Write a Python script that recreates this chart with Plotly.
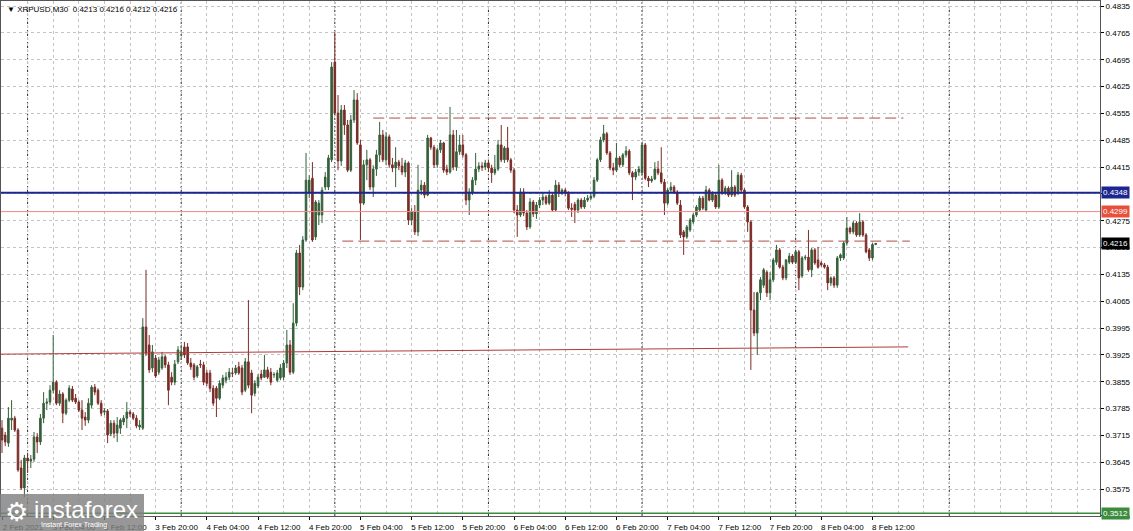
import pandas as pd
import plotly.graph_objects as go

# ---------------- data ----------------
chart_title = "\u25bc XRPUSD,M30  0.4213 0.4216 0.4212 0.4216"
start_time = "2021-02-02 20:00"

opens = [
0.3734,0.3716,0.3695,0.3755,0.3760,0.3729,0.3630,0.3578,0.3656,0.3648,
0.3653,0.3711,0.3698,0.3760,0.3799,0.3802,0.3833,0.3854,0.3799,0.3823,
0.3773,0.3807,0.3836,0.3812,0.3802,0.3781,0.3763,0.3755,0.3794,0.3841,
0.3833,0.3799,0.3776,0.3779,0.3719,0.3747,0.3721,0.3734,0.3750,0.3760,
0.3776,0.3771,0.3760,0.3737,0.3734,0.3998,0.3951,0.3891,0.3917,0.3880,
0.3891,0.3920,0.3899,0.3867,0.3854,0.3907,0.3922,0.3946,0.3946,0.3904,
0.3899,0.3870,0.3901,0.3899,0.3878,0.3878,0.3838,0.3838,0.3812,0.3846,
0.3859,0.3867,0.3878,0.3878,0.3894,0.3891,0.3833,0.3907,0.3878,0.3825,
0.3844,0.3875,0.3867,0.3886,0.3880,0.3873,0.3859,0.3865,0.3867,0.3904,
0.3951,0.3880,0.4008,0.4191,0.4102,0.4225,0.4350,0.4386,0.4233,0.4290,
0.4290,0.4363,0.4363,0.4434,0.4689,0.4556,0.4431,0.4564,0.4525,0.4407,
0.4538,0.4590,0.4473,0.4321,0.4421,0.4434,0.4363,0.4410,0.4447,0.4499,
0.4434,0.4494,0.4421,0.4413,0.4428,0.4418,0.4402,0.4426,0.4277,0.4298,
0.4246,0.4355,0.4368,0.4342,0.4491,0.4467,0.4421,0.4460,0.4478,0.4410,
0.4402,0.4499,0.4415,0.4455,0.4473,0.4447,0.4329,0.4350,0.4381,0.4410,
0.4418,0.4415,0.4426,0.4413,0.4400,0.4410,0.4473,0.4434,0.4465,0.4434,
0.4407,0.4303,0.4290,0.4350,0.4295,0.4259,0.4324,0.4293,0.4316,0.4329,
0.4337,0.4321,0.4342,0.4303,0.4368,0.4347,0.4355,0.4347,0.4308,0.4318,
0.4303,0.4329,0.4311,0.4329,0.4334,0.4339,0.4381,0.4434,0.4486,0.4502,
0.4452,0.4413,0.4407,0.4439,0.4421,0.4447,0.4457,0.4400,0.4389,0.4402,
0.4400,0.4473,0.4386,0.4379,0.4384,0.4410,0.4400,0.4376,0.4321,0.4355,
0.4363,0.4350,0.4316,0.4246,0.4233,0.4251,0.4272,0.4290,0.4303,0.4334,
0.4303,0.4355,0.4329,0.4342,0.4311,0.4381,0.4347,0.4360,0.4342,0.4363,
0.4347,0.4394,0.4355,0.4311,0.4272,0.4042,0.3982,0.4087,0.4107,0.4141,
0.4087,0.4121,0.4167,0.4199,0.4154,0.4126,0.4167,0.4183,0.4167,0.4194,
0.4131,0.4178,0.4180,0.4147,0.4199,0.4173,0.4165,0.4160,0.4154,0.4113,
0.4126,0.4107,0.4178,0.4178,0.4217,0.4256,0.4246,0.4269,0.4238,0.4272,
0.4238,0.4199,0.4178,0.4213,
]

highs = [
0.3755,0.3724,0.3789,0.3807,0.3766,0.3734,0.3651,0.3664,0.3669,0.3664,
0.3724,0.3721,0.3771,0.3828,0.3812,0.3846,0.3977,0.3859,0.3833,0.3828,
0.3812,0.3846,0.3844,0.3823,0.3807,0.3807,0.3776,0.3812,0.3846,0.3849,
0.3838,0.3807,0.3786,0.3784,0.3755,0.3755,0.3763,0.3760,0.3768,0.3802,
0.3781,0.3776,0.3768,0.3755,0.4021,0.4147,0.3977,0.3951,0.3925,0.3920,
0.3933,0.3925,0.3907,0.3880,0.3912,0.3948,0.3951,0.3959,0.3956,0.3917,
0.3904,0.3899,0.3912,0.3907,0.3886,0.3886,0.3846,0.3844,0.3859,0.3873,
0.3880,0.3891,0.3891,0.3899,0.3907,0.3899,0.3917,0.4068,0.3886,0.3859,
0.3875,0.3886,0.3925,0.3894,0.3891,0.3880,0.3886,0.3901,0.3912,0.3990,
0.3964,0.4060,0.4199,0.4212,0.4235,0.4452,0.4394,0.4428,0.4329,0.4329,
0.4363,0.4402,0.4447,0.4689,0.4767,0.4603,0.4577,0.4577,0.4538,0.4551,
0.4616,0.4608,0.4486,0.4434,0.4460,0.4439,0.4420,0.4460,0.4533,0.4512,
0.4507,0.4500,0.4439,0.4467,0.4434,0.4439,0.4434,0.4430,0.4308,0.4316,
0.4421,0.4381,0.4376,0.4499,0.4494,0.4473,0.4465,0.4486,0.4481,0.4421,
0.4572,0.4512,0.4512,0.4499,0.4499,0.4452,0.4360,0.4389,0.4452,0.4428,
0.4428,0.4434,0.4434,0.4421,0.4447,0.4486,0.4525,0.4470,0.4520,0.4439,
0.4413,0.4316,0.4360,0.4360,0.4303,0.4334,0.4329,0.4324,0.4337,0.4347,
0.4342,0.4355,0.4347,0.4381,0.4376,0.4360,0.4360,0.4352,0.4321,0.4324,
0.4334,0.4334,0.4337,0.4342,0.4347,0.4389,0.4439,0.4494,0.4525,0.4507,
0.4457,0.4426,0.4478,0.4444,0.4452,0.4470,0.4462,0.4405,0.4410,0.4418,
0.4478,0.4478,0.4392,0.4392,0.4428,0.4431,0.4467,0.4384,0.4360,0.4376,
0.4368,0.4355,0.4329,0.4251,0.4264,0.4282,0.4295,0.4316,0.4340,0.4340,
0.4366,0.4360,0.4352,0.4347,0.4421,0.4386,0.4366,0.4365,0.4407,0.4368,
0.4402,0.4400,0.4360,0.4316,0.4277,0.4089,0.4090,0.4128,0.4152,0.4146,
0.4141,0.4178,0.4212,0.4204,0.4160,0.4175,0.4191,0.4188,0.4199,0.4199,
0.4183,0.4186,0.4251,0.4204,0.4204,0.4207,0.4170,0.4165,0.4160,0.4130,
0.4131,0.4183,0.4190,0.4222,0.4285,0.4260,0.4275,0.4274,0.4295,0.4277,
0.4243,0.4204,0.4217,0.4216,
]

lows = [
0.3669,0.3687,0.3685,0.3729,0.3724,0.3620,0.3573,0.3554,0.3617,0.3630,
0.3646,0.3669,0.3690,0.3747,0.3781,0.3794,0.3825,0.3794,0.3792,0.3747,
0.3768,0.3802,0.3802,0.3797,0.3776,0.3729,0.3740,0.3747,0.3786,0.3820,
0.3794,0.3765,0.3768,0.3695,0.3713,0.3708,0.3698,0.3719,0.3742,0.3734,
0.3763,0.3755,0.3734,0.3729,0.3729,0.3922,0.3878,0.3880,0.3865,0.3873,
0.3886,0.3891,0.3794,0.3846,0.3846,0.3901,0.3912,0.3917,0.3899,0.3886,
0.3859,0.3865,0.3891,0.3846,0.3844,0.3828,0.3792,0.3763,0.3807,0.3838,
0.3851,0.3859,0.3867,0.3873,0.3873,0.3820,0.3828,0.3838,0.3773,0.3817,
0.3838,0.3859,0.3865,0.3862,0.3846,0.3865,0.3854,0.3859,0.3859,0.3891,
0.3873,0.3875,0.4000,0.4081,0.4094,0.4220,0.4334,0.4220,0.4225,0.4264,
0.4269,0.4355,0.4355,0.4428,0.4551,0.4407,0.4418,0.4499,0.4402,0.4402,
0.4530,0.4473,0.4225,0.4316,0.4381,0.4355,0.4337,0.4392,0.4428,0.4428,
0.4421,0.4413,0.4402,0.4363,0.4407,0.4394,0.4389,0.4264,0.4264,0.4238,
0.4235,0.4342,0.4334,0.4339,0.4460,0.4413,0.4413,0.4452,0.4400,0.4394,
0.4398,0.4407,0.4405,0.4447,0.4440,0.4316,0.4290,0.4342,0.4368,0.4402,
0.4405,0.4407,0.4402,0.4374,0.4394,0.4405,0.4428,0.4426,0.4428,0.4400,
0.4295,0.4233,0.4285,0.4287,0.4251,0.4254,0.4285,0.4280,0.4308,0.4316,
0.4316,0.4316,0.4298,0.4298,0.4337,0.4342,0.4339,0.4303,0.4285,0.4269,
0.4295,0.4306,0.4306,0.4324,0.4329,0.4334,0.4376,0.4428,0.4480,0.4447,
0.4407,0.4394,0.4402,0.4415,0.4415,0.4440,0.4394,0.4329,0.4381,0.4392,
0.4394,0.4381,0.4363,0.4374,0.4381,0.4394,0.4371,0.4290,0.4316,0.4350,
0.4345,0.4316,0.4230,0.4186,0.4228,0.4246,0.4267,0.4285,0.4298,0.4303,
0.4298,0.4326,0.4324,0.4306,0.4306,0.4342,0.4342,0.4337,0.4337,0.4337,
0.4342,0.4350,0.4306,0.4246,0.3886,0.3974,0.3925,0.4068,0.4100,0.4076,
0.4068,0.4115,0.4160,0.4150,0.4120,0.4120,0.4162,0.4162,0.4162,0.4094,
0.4126,0.4172,0.4142,0.4128,0.4160,0.4150,0.4155,0.4150,0.4094,0.4105,
0.4100,0.4100,0.4170,0.4173,0.4210,0.4240,0.4240,0.4233,0.4233,0.4233,
0.4190,0.4170,0.4172,0.4212,
]

closes = [
0.3703,0.3698,0.3760,0.3760,0.3729,0.3625,0.3578,0.3656,0.3648,0.3653,
0.3711,0.3698,0.3760,0.3799,0.3802,0.3833,0.3854,0.3799,0.3823,0.3773,
0.3807,0.3838,0.3807,0.3802,0.3781,0.3760,0.3755,0.3799,0.3841,0.3828,
0.3799,0.3773,0.3779,0.3716,0.3747,0.3721,0.3742,0.3755,0.3760,0.3776,
0.3771,0.3760,0.3740,0.3742,0.3998,0.3930,0.3886,0.3933,0.3870,0.3912,
0.3920,0.3899,0.3833,0.3854,0.3901,0.3938,0.3933,0.3925,0.3904,0.3894,
0.3867,0.3894,0.3899,0.3854,0.3851,0.3838,0.3799,0.3812,0.3851,0.3865,
0.3867,0.3880,0.3877,0.3891,0.3878,0.3828,0.3907,0.3846,0.3820,0.3851,
0.3867,0.3865,0.3886,0.3867,0.3854,0.3874,0.3878,0.3891,0.3904,0.3951,
0.3880,0.4008,0.4191,0.4102,0.4225,0.4381,0.4381,0.4225,0.4324,0.4321,
0.4355,0.4389,0.4439,0.4676,0.4556,0.4431,0.4564,0.4525,0.4407,0.4538,
0.4590,0.4478,0.4321,0.4421,0.4434,0.4363,0.4410,0.4447,0.4499,0.4434,
0.4494,0.4421,0.4413,0.4428,0.4418,0.4402,0.4426,0.4277,0.4298,0.4246,
0.4355,0.4368,0.4342,0.4491,0.4467,0.4421,0.4460,0.4478,0.4407,0.4402,
0.4499,0.4415,0.4455,0.4473,0.4447,0.4329,0.4350,0.4381,0.4410,0.4418,
0.4415,0.4426,0.4413,0.4400,0.4410,0.4473,0.4434,0.4465,0.4434,0.4407,
0.4303,0.4290,0.4350,0.4295,0.4259,0.4324,0.4293,0.4316,0.4329,0.4337,
0.4321,0.4342,0.4303,0.4368,0.4347,0.4355,0.4347,0.4308,0.4305,0.4303,
0.4329,0.4311,0.4329,0.4334,0.4339,0.4381,0.4434,0.4486,0.4502,0.4452,
0.4413,0.4407,0.4439,0.4421,0.4447,0.4457,0.4400,0.4389,0.4402,0.4410,
0.4473,0.4386,0.4379,0.4384,0.4410,0.4400,0.4376,0.4321,0.4355,0.4363,
0.4350,0.4321,0.4238,0.4233,0.4259,0.4277,0.4290,0.4311,0.4334,0.4308,
0.4355,0.4329,0.4347,0.4311,0.4381,0.4347,0.4360,0.4342,0.4363,0.4342,
0.4394,0.4355,0.4311,0.4272,0.4042,0.3982,0.4087,0.4121,0.4147,0.4087,
0.4121,0.4173,0.4199,0.4154,0.4126,0.4173,0.4183,0.4167,0.4194,0.4126,
0.4178,0.4180,0.4147,0.4199,0.4165,0.4154,0.4160,0.4154,0.4113,0.4126,
0.4107,0.4178,0.4186,0.4217,0.4256,0.4246,0.4269,0.4238,0.4272,0.4238,
0.4194,0.4178,0.4213,0.4216,
]

x_tick_vals = [
    "2021-02-02 20:00", "2021-02-03 04:00", "2021-02-03 12:00", "2021-02-03 20:00",
    "2021-02-04 04:00", "2021-02-04 12:00", "2021-02-04 20:00",
    "2021-02-05 04:00", "2021-02-05 12:00", "2021-02-05 20:00",
    "2021-02-06 04:00", "2021-02-06 12:00", "2021-02-06 20:00",
    "2021-02-07 04:00", "2021-02-07 12:00", "2021-02-07 20:00",
    "2021-02-08 04:00", "2021-02-08 12:00",
]
x_tick_text = [
    "2 Feb 2021", "3 Feb 04:00", "3 Feb 12:00", "3 Feb 20:00",
    "4 Feb 04:00", "4 Feb 12:00", "4 Feb 20:00",
    "5 Feb 04:00", "5 Feb 12:00", "5 Feb 20:00",
    "6 Feb 04:00", "6 Feb 12:00", "6 Feb 20:00",
    "7 Feb 04:00", "7 Feb 12:00", "7 Feb 20:00",
    "8 Feb 04:00", "8 Feb 12:00",
]
y_tick_vals = [0.3505, 0.3575, 0.3645, 0.3715, 0.3785, 0.3855, 0.3925, 0.3995,
               0.4065, 0.4135, 0.4205, 0.4275, 0.4345, 0.4415, 0.4485, 0.4555,
               0.4625, 0.4695, 0.4765, 0.4835]
# 0.4345 is fully hidden behind the 0.4348 level label in the reference
y_tick_text = ["" if v == 0.4345 else "%.4f" % v for v in y_tick_vals]

period_separators = ["2021-02-03", "2021-02-04", "2021-02-05", "2021-02-06",
                     "2021-02-07", "2021-02-08", "2021-02-09"]

level_blue = 0.4348
level_red = 0.4299
level_green = 0.3512
last_price = 0.4216

resistance_price = 0.4543
resistance_span = ["2021-02-05 06:00", "2021-02-08 16:50"]
support_price = 0.4222
support_span = ["2021-02-05 01:10", "2021-02-08 17:50"]
trend_times = ["2021-02-02 19:45", "2021-02-08 17:35"]
trend_prices = [0.3927, 0.3946]

# ---------------- figure ----------------
times = pd.date_range(start_time, periods=len(closes), freq="30min")

fig = go.Figure()
fig.add_trace(go.Candlestick(
    x=times, open=opens, high=highs, low=lows, close=closes,
    increasing=dict(line=dict(color="#35603a", width=1), fillcolor="#35603a"),
    decreasing=dict(line=dict(color="#7a2c27", width=1), fillcolor="#7a2c27"),
    whiskerwidth=0, showlegend=False, hoverinfo="skip",
))

bar = pd.Timedelta(minutes=30)
t0 = pd.Timestamp(start_time)
x_range = [t0 - 0.3125 * bar, t0 + 343.1 * bar]

grid_col = "#c4c4c4"
font_main = "Liberation Sans, Arial, sans-serif"

fig.update_layout(
    width=1133, height=531,
    margin=dict(l=1, r=33, t=1, b=15, pad=0, autoexpand=False),
    paper_bgcolor="white", plot_bgcolor="white",
    font=dict(family=font_main, size=8, color="black"),
    showlegend=False,
)
fig.update_xaxes(
    type="date", range=x_range, rangeslider_visible=False, automargin=False,
    tickmode="array", tickvals=x_tick_vals, ticktext=x_tick_text,
    ticks="outside", ticklen=3, tickcolor="black",
    tickfont=dict(size=8, family=font_main, color="black"),
    ticklabelshift=21, ticklabelstandoff=0,
    showgrid=True, gridcolor=grid_col, griddash="3px,3px", gridwidth=1,
    minor=dict(tickmode="linear", tick0=start_time, dtick=4 * 3600 * 1000,
               showgrid=True, gridcolor=grid_col, griddash="3px,3px", ticks=""),
    showline=True, linecolor="#555555", linewidth=1, mirror=True,
    zeroline=False, fixedrange=True,
)
fig.update_yaxes(
    side="right", range=[0.35048, 0.48484], automargin=False,
    tickmode="array", tickvals=y_tick_vals, ticktext=y_tick_text,
    ticks="outside", ticklen=3, tickcolor="black",
    tickfont=dict(size=8, family=font_main, color="black"),
    showgrid=True, gridcolor=grid_col, griddash="3px,3px", gridwidth=1,
    showline=True, linecolor="#555555", linewidth=1, mirror=True,
    zeroline=False, fixedrange=True,
)

shapes = []
for d in period_separators:
    shapes.append(dict(type="line", xref="x", yref="paper", x0=d, x1=d, y0=0, y1=1,
                       line=dict(color="#2a2a2a", width=1, dash="2px,2px"), layer="below"))
shapes.append(dict(type="line", xref="paper", yref="y", x0=0, x1=1, y0=level_red, y1=level_red,
                   line=dict(color="#f28a86", width=1), layer="above"))
shapes.append(dict(type="line", xref="paper", yref="y", x0=0, x1=1, y0=level_blue, y1=level_blue,
                   line=dict(color="#1c2590", width=2), layer="above"))
shapes.append(dict(type="line", xref="paper", yref="y", x0=0, x1=1, y0=level_green, y1=level_green,
                   line=dict(color="#3d8c3d", width=1.5), layer="above"))
shapes.append(dict(type="line", xref="x", yref="y", x0=resistance_span[0], x1=resistance_span[1],
                   y0=resistance_price, y1=resistance_price,
                   line=dict(color="#b04a45", width=1, dash="11px,5px"), layer="above"))
shapes.append(dict(type="line", xref="x", yref="y", x0=support_span[0], x1=support_span[1],
                   y0=support_price, y1=support_price,
                   line=dict(color="#b04a45", width=1, dash="11px,5px"), layer="above"))
shapes.append(dict(type="line", xref="x", yref="y", x0=trend_times[0], x1=trend_times[1],
                   y0=trend_prices[0], y1=trend_prices[1],
                   line=dict(color="#b03a3a", width=1), layer="above"))


def px_x(p):
    return (p - 1) / 1099.0


def px_y(p):
    return (516 - p) / 515.0


shapes.append(dict(type="rect", xref="paper", yref="paper",
                   x0=px_x(0), x1=px_x(144), y0=px_y(531), y1=px_y(494),
                   fillcolor="#808080", opacity=0.82, line=dict(width=0), layer="above"))
fig.update_layout(shapes=shapes)

annotations = []
annotations.append(dict(text=chart_title, xref="paper", yref="paper", x=px_x(5), y=px_y(9),
                        xanchor="left", yanchor="middle", showarrow=False,
                        font=dict(size=8, color="black", family=font_main)))
for price, bg in [(level_blue, "#1c2590"), (level_red, "#e8503c"),
                  (last_price, "#000000"), (level_green, "#3d8c3d")]:
    annotations.append(dict(text="%.4f" % price, xref="paper", yref="y", x=1, y=price,
                            xanchor="left", yanchor="middle", xshift=1, showarrow=False,
                            bgcolor=bg, borderpad=1,
                            font=dict(size=8, color="white", family=font_main)))
annotations.append(dict(text="\u2699", xref="paper", yref="paper", x=px_x(3), y=px_y(512),
                        xanchor="left", yanchor="middle", showarrow=False,
                        font=dict(size=26, color="white", family="DejaVu Sans")))
annotations.append(dict(text="instaforex", xref="paper", yref="paper", x=px_x(32), y=px_y(509),
                        xanchor="left", yanchor="middle", showarrow=False,
                        font=dict(size=24, color="white", family=font_main)))
annotations.append(dict(text="Instant Forex Trading", xref="paper", yref="paper", x=px_x(39), y=px_y(525),
                        xanchor="left", yanchor="middle", showarrow=False,
                        font=dict(size=7, color="white", family=font_main)))
fig.update_layout(annotations=annotations)

fig.write_html(
    "out.html",
    config={"displayModeBar": False, "staticPlot": True},
    post_script="document.body.style.margin='0';document.body.style.padding='0';"
                "document.body.style.overflow='hidden';window.dispatchEvent(new Event('resize'));",
)
